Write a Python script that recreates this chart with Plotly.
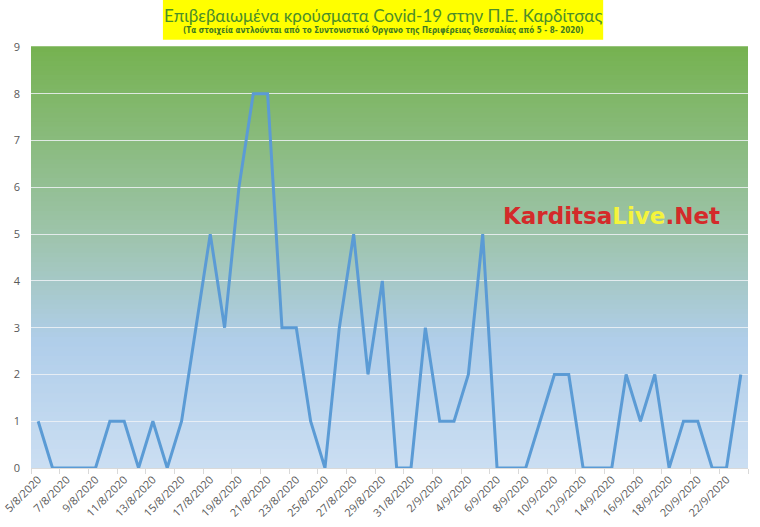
import plotly.graph_objects as go

# Daily confirmed cases, 5/8/2020 - 23/9/2020
dates = [
    "5/8/2020", "6/8/2020", "7/8/2020", "8/8/2020", "9/8/2020", "10/8/2020", "11/8/2020",
    "12/8/2020", "13/8/2020", "14/8/2020", "15/8/2020", "16/8/2020", "17/8/2020", "18/8/2020",
    "19/8/2020", "20/8/2020", "21/8/2020", "22/8/2020", "23/8/2020", "24/8/2020", "25/8/2020",
    "26/8/2020", "27/8/2020", "28/8/2020", "29/8/2020", "30/8/2020", "31/8/2020", "1/9/2020",
    "2/9/2020", "3/9/2020", "4/9/2020", "5/9/2020", "6/9/2020", "7/9/2020", "8/9/2020",
    "9/9/2020", "10/9/2020", "11/9/2020", "12/9/2020", "13/9/2020", "14/9/2020", "15/9/2020",
    "16/9/2020", "17/9/2020", "18/9/2020", "19/9/2020", "20/9/2020", "21/9/2020", "22/9/2020",
    "23/9/2020",
]
cases = [
    1, 0, 0, 0, 0, 1, 1, 0, 1, 0, 1, 3, 5, 3, 6, 8, 8, 3, 3, 1, 0, 3, 5, 2, 4,
    0, 0, 3, 1, 1, 2, 5, 0, 0, 0, 1, 2, 2, 0, 0, 0, 2, 1, 2, 0, 1, 1, 0, 0, 2,
]
y_ticks = [0, 1, 2, 3, 4, 5, 6, 7, 8, 9]

title_main = "Επιβεβαιωμένα κρούσματα Covid-19 στην Π.Ε. Καρδίτσας"
title_sub = "(Τα στοιχεία αντλούνται από το Συντονιστικό Όργανο της Περιφέρειας Θεσσαλίας από 5 - 8- 2020)"


def mix(c1, c2, t):
    return "rgb({},{},{})".format(*[round(a + (b - a) * t) for a, b in zip(c1, c2)])


# gradient background: light blue at the bottom, green at the top
stops = [(0.0, (203, 222, 242)), (0.3, (176, 206, 234)), (0.55, (158, 196, 172)), (1.0, (118, 178, 80))]
shapes = []
n_bands = 90
for i in range(n_bands):
    f = (i + 0.5) / n_bands
    for (p0, c0), (p1, c1) in zip(stops[:-1], stops[1:]):
        if p0 <= f <= p1:
            col = mix(c0, c1, (f - p0) / (p1 - p0))
            break
    shapes.append(dict(
        type="rect", xref="paper", yref="paper", x0=0, x1=1,
        y0=i / n_bands, y1=(i + 1) / n_bands + 0.002,
        fillcolor=col, line=dict(width=0), layer="below",
    ))

# yellow title box
shapes.append(dict(
    type="rect", xref="paper", yref="paper", x0=0.184, x1=0.798, y0=1.017, y1=1.115,
    fillcolor="#ffff00", line=dict(width=0), layer="below",
))

fig = go.Figure()
fig.add_trace(go.Scatter(
    x=dates, y=cases, mode="lines",
    line=dict(color="#5b9bd5", width=3),
    showlegend=False,
))

fig.update_layout(
    width=760, height=527,
    margin=dict(l=31, r=12, t=47, b=59),
    paper_bgcolor="white",
    plot_bgcolor="rgba(0,0,0,0)",
    shapes=shapes,
    font=dict(family="Open Sans", color="#595959"),
    annotations=[
        dict(text=title_main, xref="paper", yref="paper", x=0.491, y=1.075,
             xanchor="center", yanchor="middle", showarrow=False,
             font=dict(family="Lato", size=17, color="#4c8e2a")),
        dict(text="<b>" + title_sub + "</b>", xref="paper", yref="paper", x=0.491, y=1.04,
             xanchor="center", yanchor="middle", showarrow=False,
             font=dict(family="DejaVu Sans Condensed", size=8, color="#3f7a22")),
        dict(text="<b>Karditsa<span style='color:#f4f43c'>Live</span>.Net</b>",
             xref="paper", yref="paper", x=0.809, y=0.599, xanchor="center", yanchor="middle",
             showarrow=False, font=dict(family="DejaVu Sans", size=23, color="#d42a2a")),
    ],
)

fig.update_xaxes(
    type="category", range=[-0.5, len(dates) - 0.5], automargin=False,
    tickmode="linear", dtick=2, tick0=0, tickangle=-45,
    tickson="boundaries", ticks="outside", ticklen=5, tickcolor="#d9d9d9",
    showgrid=False, showline=True, linecolor="#d9d9d9", linewidth=1,
    tickfont=dict(size=11, color="#595959"), zeroline=False,
)
fig.update_yaxes(
    range=[0, 9], tickvals=y_ticks, automargin=False,
    showgrid=True, gridcolor="rgba(238,242,246,0.85)", gridwidth=1,
    zeroline=False, showline=False, ticklabelstandoff=10,
    tickfont=dict(size=11, color="#595959"),
)

# drop the default 8px page margin so the figure fills the window
fig.write_html(
    "out.html",
    config={"displayModeBar": False},
    post_script="document.body.style.margin = '0';",
)
